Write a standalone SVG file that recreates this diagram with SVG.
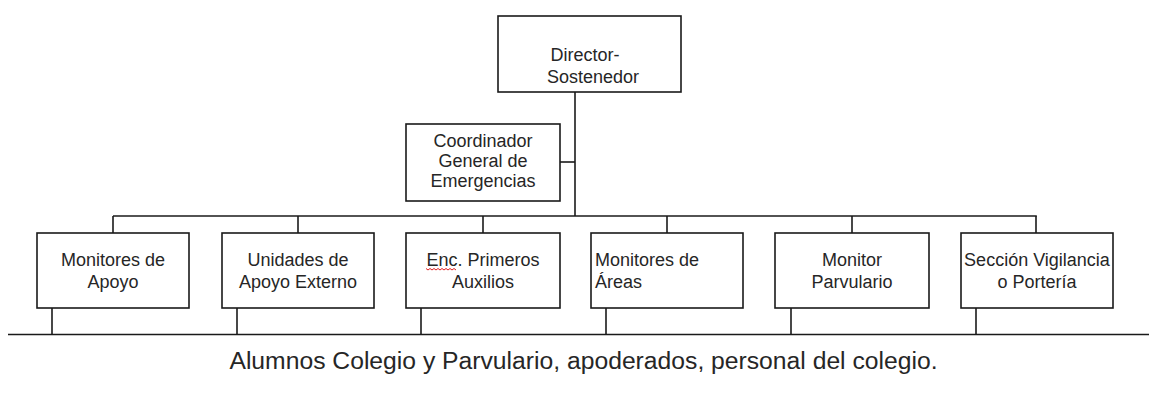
<svg xmlns="http://www.w3.org/2000/svg" width="1149" height="411" viewBox="0 0 1149 411">
<style>
.box{fill:#fff;stroke:#1a1a1a;stroke-width:1.6}
.ln{stroke:#1a1a1a;stroke-width:1.6;fill:none}
.t{font-family:"Liberation Sans",Arial,sans-serif;font-size:18px;fill:#262626}
.c{text-anchor:middle}
.big{font-family:"Liberation Sans",Arial,sans-serif;font-size:24.7px;fill:#262626;text-anchor:middle}
</style>
<rect width="1149" height="411" fill="#fff"/>
<g id="connectors">
<line class="ln" x1="575" y1="92" x2="575" y2="216"/>
<line class="ln" x1="560" y1="162" x2="575" y2="162"/>
<line class="ln" x1="113" y1="216" x2="1036.8" y2="216"/>
<line class="ln" x1="113" y1="216" x2="113" y2="233"/>
<line class="ln" x1="298" y1="216" x2="298" y2="233"/>
<line class="ln" x1="483" y1="216" x2="483" y2="233"/>
<line class="ln" x1="667" y1="216" x2="667" y2="233"/>
<line class="ln" x1="852" y1="216" x2="852" y2="233"/>
<line class="ln" x1="1036" y1="216" x2="1036" y2="233"/>
<line class="ln" x1="52" y1="305" x2="52" y2="334"/>
<line class="ln" x1="237" y1="305" x2="237" y2="334"/>
<line class="ln" x1="421" y1="305" x2="421" y2="334"/>
<line class="ln" x1="606" y1="305" x2="606" y2="334"/>
<line class="ln" x1="791" y1="305" x2="791" y2="334"/>
<line class="ln" x1="976" y1="305" x2="976" y2="334"/>
<line class="ln" x1="8" y1="334.5" x2="1149" y2="334.5" stroke-width="2.2"/>
</g>
<g id="director">
<rect class="box" x="498" y="16" width="183" height="76"/>
<text class="t c" x="585" y="61">Director-</text>
<text class="t c" x="593" y="83">Sostenedor</text>
</g>
<g id="coordinador">
<rect class="box" x="406" y="124" width="154" height="77"/>
<text class="t c" x="483" y="147">Coordinador</text>
<text class="t c" x="483" y="167">General de</text>
<text class="t c" x="483" y="187">Emergencias</text>
</g>
<g id="monitores-apoyo">
<rect class="box" x="37" y="233" width="152" height="75"/>
<text class="t c" x="113" y="266">Monitores de</text>
<text class="t c" x="113" y="288">Apoyo</text>
</g>
<g id="unidades-apoyo">
<rect class="box" x="222" y="233" width="152" height="75"/>
<text class="t c" x="298" y="266">Unidades de</text>
<text class="t c" x="298" y="288">Apoyo Externo</text>
</g>
<g id="primeros-auxilios">
<rect class="box" x="406" y="233" width="154" height="75"/>
<text class="t c" x="483" y="266">Enc. Primeros</text>
<text class="t c" x="483" y="288">Auxilios</text>
<path d="M426 268.5 l2 1.5 l2 -1.5 l2 1.5 l2 -1.5 l2 1.5 l2 -1.5 l2 1.5 l2 -1.5 l2 1.5 l2 -1.5 l2 1.5 l2 -1.5 l2 1.5 l2 -1.5 l2 1.5" fill="none" stroke="#e02020" stroke-width="1"/>
</g>
<g id="monitores-areas">
<rect class="box" x="591" y="233" width="152" height="75"/>
<text class="t" x="595" y="266">Monitores de</text>
<text class="t" x="595" y="288">Áreas</text>
</g>
<g id="monitor-parvulario">
<rect class="box" x="775" y="233" width="154" height="75"/>
<text class="t c" x="852" y="266">Monitor</text>
<text class="t c" x="852" y="288">Parvulario</text>
</g>
<g id="seccion-vigilancia">
<rect class="box" x="961" y="233" width="152" height="75"/>
<text class="t c" x="1037" y="266">Sección Vigilancia</text>
<text class="t c" x="1037" y="288">o Portería</text>
</g>
<g id="poblacion">
<text class="big" x="583.5" y="369">Alumnos Colegio y Parvulario, apoderados, personal del colegio.</text>
</g>
</svg>
